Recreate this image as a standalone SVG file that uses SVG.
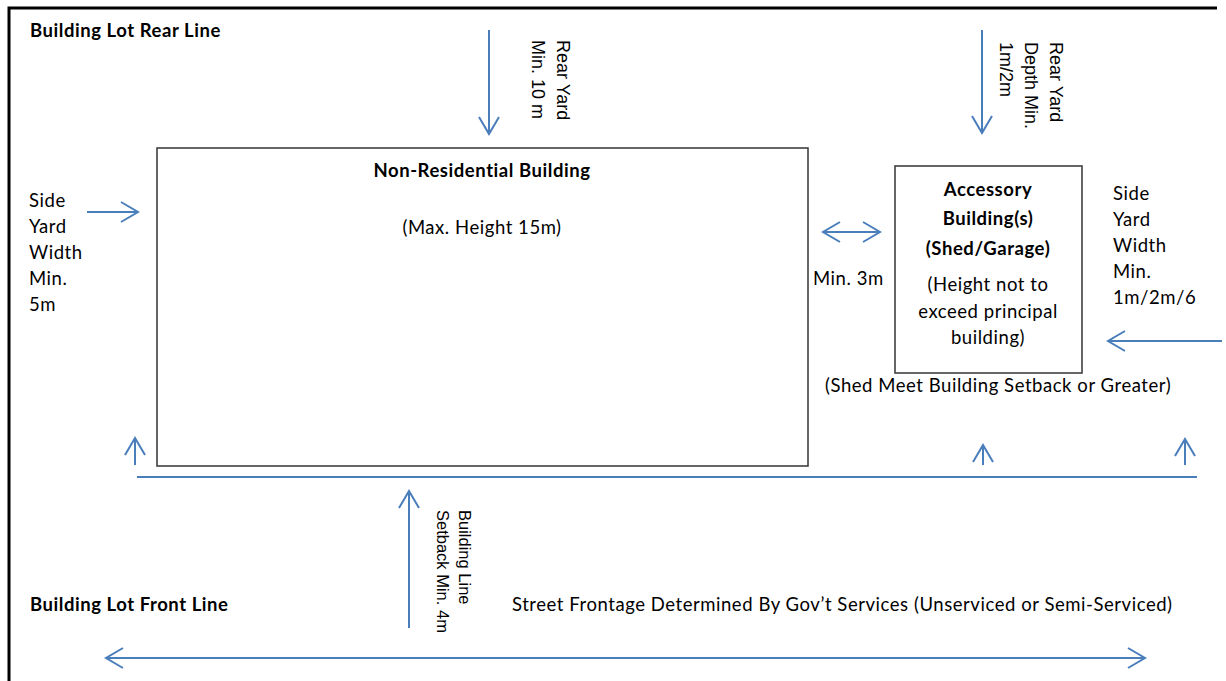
<svg xmlns="http://www.w3.org/2000/svg" width="1226" height="681" viewBox="0 0 1226 681">
<style>
.t{font-family:Lato,"Liberation Sans",sans-serif;font-size:18.5px;letter-spacing:0.55px;fill:#000}
.b{font-weight:bold}
.r{font-family:"Liberation Sans",Arial,sans-serif;font-size:18px;fill:#000}
.rs{font-family:"Liberation Sans",Arial,sans-serif;font-size:16.5px;fill:#000}
.c{text-anchor:middle}
.box{fill:#fff;stroke:#404040;stroke-width:1.6}
.ar{fill:none;stroke:#4A7EBB;stroke-width:2}
</style>
<defs>
<marker id="ah" markerUnits="userSpaceOnUse" markerWidth="22" markerHeight="24" viewBox="-18 -11 22 22" refX="0" refY="0" orient="auto-start-reverse">
<path d="M-17,-10 L0,0 L-17,10" fill="none" stroke="#4A7EBB" stroke-width="2"/>
</marker>
</defs>
<rect width="1226" height="681" fill="#fff"/>
<g id="border">
<path d="M9,681 L9,8 L1217,8" fill="none" stroke="#000" stroke-width="3"/>
</g>
<g id="labels">
<text class="t b" x="30" y="37">Building Lot Rear Line</text>
<text class="t b" x="30" y="611">Building Lot Front Line</text>
<text class="t" x="512" y="611">Street Frontage Determined By Gov’t Services (Unserviced or Semi-Serviced)</text>
<text class="t"><tspan x="29" y="207">Side</tspan><tspan x="29" y="233">Yard</tspan><tspan x="29" y="259">Width</tspan><tspan x="29" y="285">Min.</tspan><tspan x="29" y="311">5m</tspan></text>
<text class="t"><tspan x="1113" y="200">Side</tspan><tspan x="1113" y="226">Yard</tspan><tspan x="1113" y="252">Width</tspan><tspan x="1113" y="278">Min.</tspan><tspan x="1113" y="304">1m/2m/6</tspan></text>
<text class="t" x="813" y="285">Min. 3m</text>
<text class="t" x="825" y="392">(Shed Meet Building Setback or Greater)</text>
<text class="r" transform="translate(557,40) rotate(90)">Rear Yard</text>
<text class="r" transform="translate(532,40) rotate(90)">Min. 10 m</text>
<text class="r" transform="translate(1050,42) rotate(90)">Rear Yard</text>
<text class="r" transform="translate(1025,42) rotate(90)">Depth Min.</text>
<text class="r" transform="translate(1000,42) rotate(90)">1m/2m</text>
<text class="rs" transform="translate(459,510) rotate(90)">Building Line</text>
<text class="rs" transform="translate(437,510) rotate(90)">Setback Min. 4m</text>
</g>
<g id="main-building">
<rect class="box" x="157" y="148" width="651" height="318"/>
<text class="t b c" x="482" y="177">Non-Residential Building</text>
<text class="t c" x="482" y="234">(Max. Height 15m)</text>
</g>
<g id="accessory-building">
<rect class="box" x="895" y="166" width="187" height="207"/>
<text class="t b c" x="988" y="196">Accessory</text>
<text class="t b c" x="988" y="225">Building(s)</text>
<text class="t b c" x="988" y="255">(Shed/Garage)</text>
<text class="t c" x="988" y="291">(Height not to</text>
<text class="t c" x="988" y="318">exceed principal</text>
<text class="t c" x="988" y="344">building)</text>
</g>
<g id="connectors">
<line class="ar" x1="489" y1="30" x2="489" y2="134" marker-end="url(#ah)"/>
<line class="ar" x1="982" y1="30" x2="982" y2="133" marker-end="url(#ah)"/>
<line class="ar" x1="87" y1="212" x2="138" y2="212" marker-end="url(#ah)"/>
<line class="ar" x1="823" y1="232" x2="880" y2="232" marker-start="url(#ah)" marker-end="url(#ah)"/>
<line class="ar" x1="1222" y1="341" x2="1108" y2="341" marker-end="url(#ah)"/>
<line class="ar" x1="135" y1="465" x2="135" y2="438" marker-end="url(#ah)"/>
<line class="ar" x1="983" y1="465" x2="983" y2="445" marker-end="url(#ah)"/>
<line class="ar" x1="1185" y1="465" x2="1185" y2="439" marker-end="url(#ah)"/>
<line class="ar" x1="137" y1="477" x2="1197" y2="477"/>
<line class="ar" x1="409" y1="628" x2="409" y2="491" marker-end="url(#ah)"/>
<line class="ar" x1="106" y1="658" x2="1145" y2="658" marker-start="url(#ah)" marker-end="url(#ah)"/>
</g>
</svg>
